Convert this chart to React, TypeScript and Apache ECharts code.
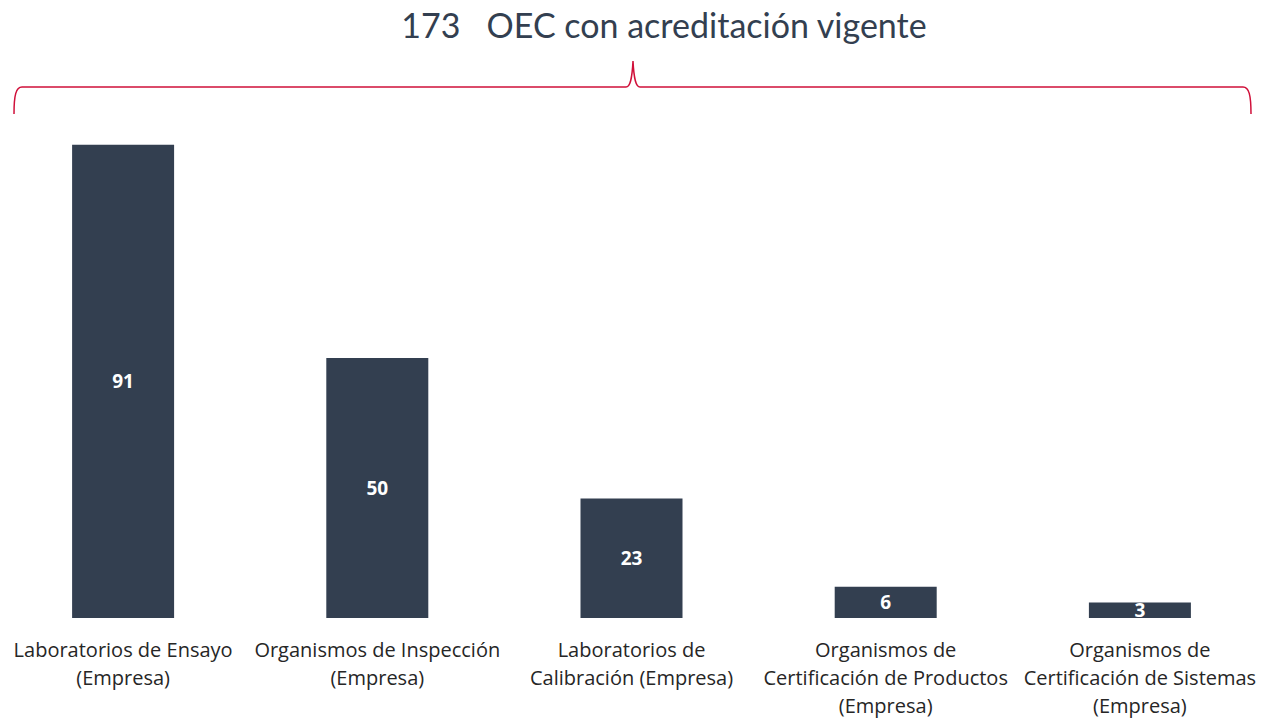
import React, { useEffect, useRef } from "react";
import * as echarts from "echarts";

const categories = [
  "Laboratorios de Ensayo\n(Empresa)",
  "Organismos de Inspección\n(Empresa)",
  "Laboratorios de\nCalibración (Empresa)",
  "Organismos de\nCertificación de Productos\n(Empresa)",
  "Organismos de\nCertificación de Sistemas\n(Empresa)",
];
const values = [91, 50, 23, 6, 3];
const titleText = "173   OEC con acreditación vigente";

const braceD =
  "M14,114 C14,95 16,87 22,87 L626,87 C630,87 632,80 633,61 C634,80 636,87 640,87 L1243,87 C1249,87 1251,95 1251,114";

let registered = false;

export default function App() {
  const ref = useRef<HTMLDivElement>(null);
  useEffect(() => {
    if (!registered) {
      echarts.graphic.registerShape("brace", echarts.graphic.extendPath(braceD, {}) as any);
      registered = true;
    }
    const chart = echarts.init(ref.current!, null, { renderer: "svg" });
    chart.setOption({
      animation: false,
      backgroundColor: "#ffffff",
      title: {
        text: titleText,
        left: 659,
        textAlign: "center",
        top: 2,
        textStyle: {
          fontFamily: "Lato",
          fontSize: 34,
          fontWeight: "normal",
          color: "#333F50",
        },
      },
      graphic: [
        {
          type: "brace",
          x: 0,
          y: 0,
          style: { stroke: "#D0103A", fill: null, lineWidth: 1.5 },
        },
      ],
      grid: {
        left: -4,
        right: 10,
        top: 98,
        bottom: 103,
        containLabel: false,
        outerBoundsMode: "none",
      },
      xAxis: {
        type: "category",
        data: categories,
        axisLine: { show: false },
        axisTick: { show: false },
        axisLabel: {
          interval: 0,
          margin: 17,
          fontFamily: "Open Sans",
          fontSize: 20,
          lineHeight: 28,
          color: "#262626",
          verticalAlign: "top",
        },
      },
      yAxis: {
        type: "value",
        min: 0,
        max: 100,
        show: false,
        splitLine: { show: false },
      },
      series: [
        {
          type: "bar",
          data: values,
          barWidth: 102,
          itemStyle: { color: "#333F50" },
          label: {
            show: true,
            position: "inside",
            color: "#ffffff",
            fontFamily: "Open Sans",
            fontWeight: "bold",
            fontSize: 19,
          },
        },
      ],
    });
    return () => chart.dispose();
  }, []);
  return (
    <div
      ref={ref}
      style={{ position: "absolute", left: 0, top: 0, width: 1277, height: 721 }}
    />
  );
}
